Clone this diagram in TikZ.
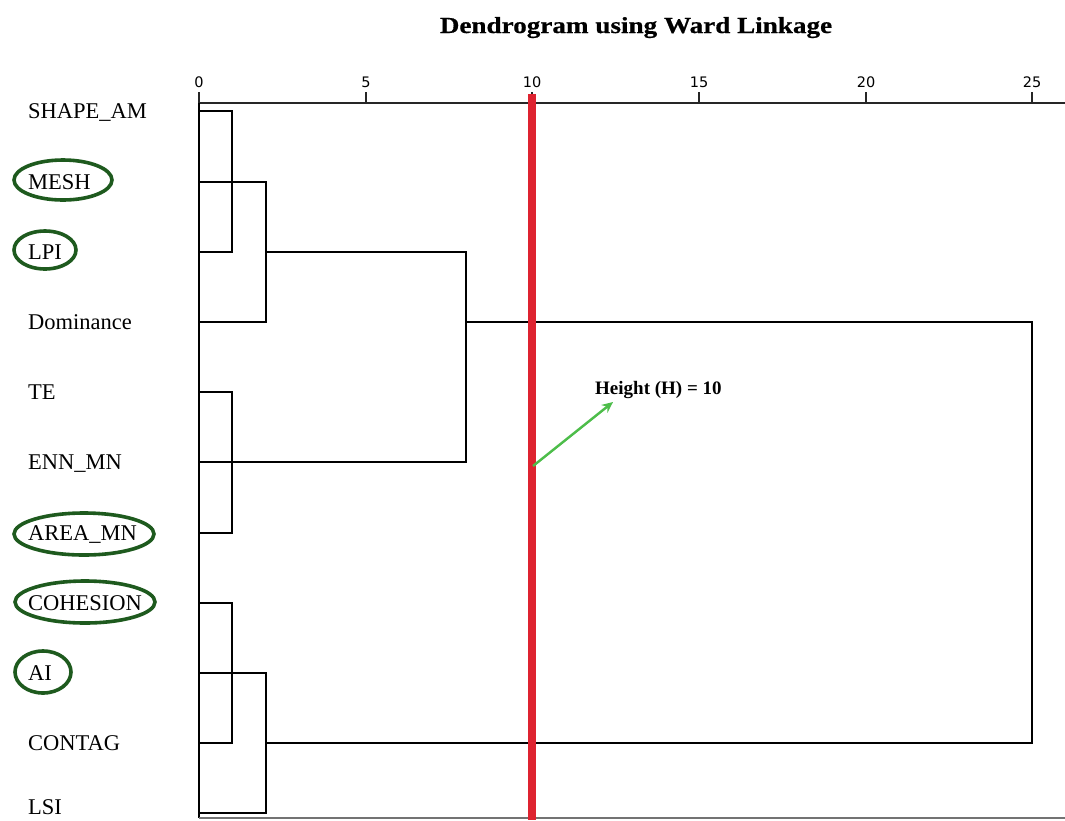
\documentclass[tikz,border=0pt]{standalone}
\usepackage{fontspec}
\setmainfont{Liberation Serif}
\newfontfamily\titlefont[FakeStretch=1.18,FakeBold=0.6]{Liberation Serif}
\newfontfamily\ticksans{DejaVu Sans}
\usetikzlibrary{arrows.meta}
\definecolor{ringgreen}{HTML}{1E5A1E}
\definecolor{cutred}{HTML}{DE2330}
\definecolor{arrowgreen}{HTML}{4DBD4A}
\begin{document}
\begin{tikzpicture}[x=1pt,y=-1pt,
  leaf/.style={anchor=base west, inner sep=0pt, font=\fontsize{22.5}{22.5}\selectfont},
  ticklabel/.style={anchor=base, inner sep=0pt, font=\ticksans\fontsize{14.5}{14.5}\selectfont},
  link/.style={draw=black, line width=1.6pt},
  axisline/.style={draw=black!85, line width=1.6pt},
  ring/.style={draw=ringgreen, line width=3.6pt},
  cutline/.style={draw=cutred, line width=8.5pt},
  pointer/.style={draw=arrowgreen, line width=2.4pt, -{Stealth[length=11pt,width=10pt]}}]
\useasboundingbox (0,0) rectangle (1065,820);
\fill[white] (0,0) rectangle (1065,820);

% title
\node[anchor=base, inner sep=0pt, font=\titlefont\bfseries\fontsize{23}{23}\selectfont]
  (title) at (636,33) {Dendrogram using Ward Linkage};

% distance axis
\coordinate (ax0) at (199,103);
\coordinate (axend) at (1065,103);
\draw[axisline] (ax0) -- (axend);
\foreach \v/\px in {0/199,5/366,10/532,15/699,20/866,25/1032}{
  \draw[axisline] (\px,103) -- (\px,92);
  \node[ticklabel] (tick\v) at (\px,87) {\v};
}
% left spine and bottom rule
\coordinate (spinebot) at (199,818);
\draw[link] (ax0) -- (spinebot);
\coordinate (botend) at (1065,818);
\draw[draw=black!55, line width=1.6pt] (spinebot) -- (botend);

% leaves
\foreach \i/\y/\txt in {1/111/SHAPE\_AM, 2/182/MESH, 3/252/LPI, 4/322/Dominance,
    5/392/TE, 6/462/ENN\_MN, 7/533/AREA\_MN, 8/603/COHESION, 9/673/AI,
    10/743/CONTAG}{
  \node[leaf] (lab\i) at (28,\y+7) {\txt};
  \coordinate (l\i) at (199,\y);
}
\node[leaf] (lab11) at (28,814) {LSI};
\coordinate (l11) at (199,813);

% highlighted leaves
\draw[ring] (63,180) ellipse [x radius=49pt, y radius=20pt];
\draw[ring] (45,250) ellipse [x radius=31pt, y radius=19pt];
\draw[ring] (84,534) ellipse [x radius=70pt, y radius=21pt];
\draw[ring] (85,602) ellipse [x radius=70pt, y radius=21pt];
\draw[ring] (43,672) ellipse [x radius=28pt, y radius=21pt];

% merge points
\coordinate (j1) at (232,111);
\coordinate (j2) at (266,182);
\coordinate (j3) at (266,252);
\coordinate (j4) at (466,252);
\coordinate (j5) at (466,322);
\coordinate (j6) at (232,392);
\coordinate (j7) at (466,462);
\coordinate (j8) at (232,603);
\coordinate (j9) at (266,673);
\coordinate (j10) at (266,743);
\coordinate (root) at (1032,322);

% dendrogram links
\draw[link] (l1) -- (j1) |- (l3);
\draw[link] (l2) -- (j2) |- (l4);
\draw[link] (j3) -- (j4) |- (l6);
\draw[link] (l5) -- (j6) |- (l7);
\draw[link] (l8) -- (j8) |- (l10);
\draw[link] (l9) -- (j9) |- (l11);
\draw[link] (j5) -- (root) |- (j10);

% cut height
\coordinate (cuttop) at (532,94);
\coordinate (cutbot) at (532,820);
\draw[cutline] (cuttop) -- (cutbot);
\coordinate (ptrstart) at (533,466);
\coordinate (ptrend) at (613,402);
\draw[pointer] (ptrstart) -- (ptrend);
\node[anchor=base west, inner sep=0pt, font=\bfseries\fontsize{19}{19}\selectfont]
  (hlabel) at (595,394) {Height (H) = 10};
\end{tikzpicture}
\end{document}
